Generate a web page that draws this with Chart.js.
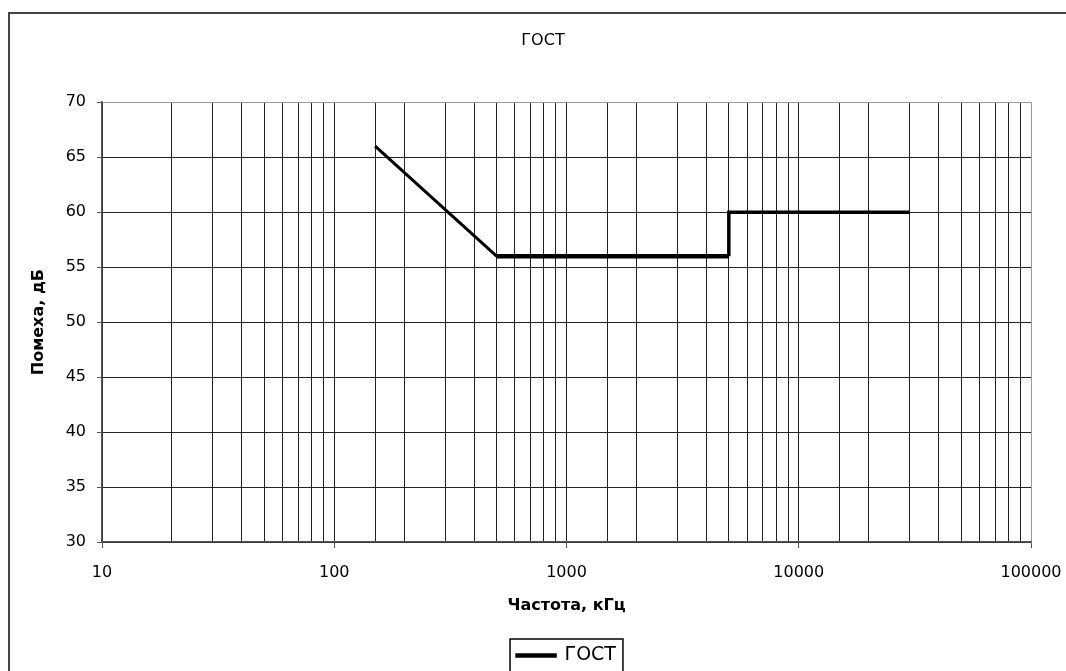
<!DOCTYPE html>
<html lang="ru">
<head>
<meta charset="utf-8"/>
<title>ГОСТ</title>
<script src="https://cdn.jsdelivr.net/npm/chart.js"></script>
<style>
body { margin: 0; overflow: hidden; background: #fff; }
#frame { position: absolute; left: 8px; top: 12px; width: 2000px; height: 2000px; border-left: 2px solid #444; border-top: 2px solid #444; }
canvas { position: absolute; left: 0; top: 0; }
</style>
</head>
<body>
<div id="frame"></div>
<canvas id="chart" width="1066" height="671"></canvas>
<script>
"use strict";
// limit line
const freq  = [150, 500, 5000, 5000, 30000];
const level = [66, 56, 56, 60, 60];
const xLabels = [10, 100, 1000, 10000, 100000];
const seriesName = "ГОСТ";

const isDecade = v => Math.abs(Math.log10(v) - Math.round(Math.log10(v))) < 1e-9;

Chart.defaults.font.family = "'DejaVu Sans', sans-serif";
Chart.defaults.color = "#000";

// box round the legend item
const legendFrame = {
  id: "legendFrame",
  afterDraw(chart){
    const hb = chart.legend.legendHitBoxes[0];
    if(!hb) return;
    const ctx = chart.ctx;
    ctx.save();
    ctx.strokeStyle = "#000";
    ctx.lineWidth = 1.5;
    ctx.strokeRect(hb.left - 7, hb.top - 7, hb.width + 14, 60);
    ctx.restore();
  }
};

const chart = new Chart(document.getElementById("chart"), {
  type: "line",
  data: {
    datasets: [{
      label: seriesName,
      data: freq.map((f, i) => ({x: f, y: level[i]})),
      borderColor: "#000",
      backgroundColor: "#000",
      borderWidth: 3.5,
      pointRadius: 0,
      borderJoinStyle: "miter",
      segment: {
        borderWidth: ctx => ctx.p0DataIndex === 0 ? 3 : (ctx.p0DataIndex === 1 ? 4.5 : 3.5)
      }
    }]
  },
  options: {
    responsive: false,
    animation: false,
    layout: { padding: { left: 55, right: 35, top: 0, bottom: -4 } },
    plugins: {
      tooltip: { enabled: false },
      title: {
        display: true,
        text: seriesName,
        font: { size: 16, weight: "normal" },
        color: "#000",
        padding: { top: 31, bottom: 52 }
      },
      legend: {
        position: "bottom",
        fullSize: false,
        labels: {
          boxWidth: 38,
          boxHeight: 1,
          padding: 31,
          font: { size: 19 },
          color: "#000"
        }
      }
    },
    scales: {
      x: {
        type: "logarithmic",
        min: 10,
        max: 100000,
        afterFit(s){ s.height = 73; s.paddingLeft = 0; s.paddingRight = 0; },
        border: { color: "#555", width: 1.5 },
        grid: {
          color: c => (c.tick && c.tick.value === 100000) ? "#999" : "#222",
          lineWidth: 1,
          tickLength: 6,
          tickColor: c => (c.tick && isDecade(c.tick.value)) ? "#555" : "rgba(0,0,0,0)"
        },
        ticks: {
          autoSkip: false,
          maxRotation: 0,
          padding: 15,
          font: { size: 16 },
          color: "#000",
          callback: v => xLabels.includes(v) ? String(v) : ""
        },
        title: {
          display: true,
          text: "Частота, кГц",
          font: { size: 16, weight: "bold" },
          color: "#000",
          padding: { top: 0, bottom: 0 }
        }
      },
      y: {
        min: 30,
        max: 70,
        afterFit(s){ s.width = 47; },
        border: { color: "#555", width: 1.5 },
        grid: {
          color: c => (c.tick && c.tick.value === 70) ? "#999" : "#222",
          lineWidth: 1,
          tickLength: 5,
          tickColor: "#555"
        },
        ticks: {
          stepSize: 5,
          padding: 11,
          font: { size: 16 },
          color: "#000"
        },
        title: {
          display: true,
          text: "Помеха, дБ",
          font: { size: 16, weight: "bold" },
          color: "#000",
          padding: { top: -25.6, bottom: 0 }
        }
      }
    }
  },
  plugins: [legendFrame]
});
</script>
</body>
</html>
